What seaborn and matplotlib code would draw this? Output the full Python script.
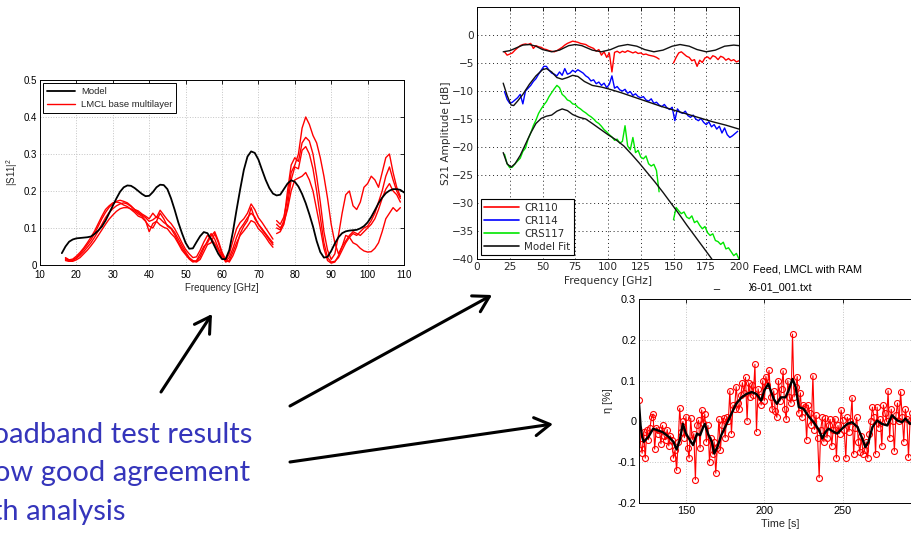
import numpy as np
import matplotlib
matplotlib.use("Agg")
import matplotlib.pyplot as plt
import seaborn as sns
from matplotlib.lines import Line2D
from matplotlib.patches import FancyArrowPatch, Rectangle
from matplotlib.ticker import FuncFormatter

# ---------------- |S11|^2 reflection data ----------------
s11_model_freq = np.arange(16, 111, 1)
s11_model = [0.032, 0.050, 0.063, 0.069, 0.072, 0.073, 0.074, 0.075, 0.077, 0.084,
             0.093, 0.104, 0.120, 0.140, 0.160, 0.180, 0.198, 0.210, 0.215, 0.214,
             0.208, 0.200, 0.192, 0.186, 0.187, 0.197, 0.210, 0.217, 0.216, 0.205,
             0.180, 0.149, 0.115, 0.086, 0.060, 0.044, 0.045, 0.062, 0.078, 0.089,
             0.086, 0.070, 0.050, 0.030, 0.016, 0.016, 0.040, 0.090, 0.149, 0.205,
             0.257, 0.293, 0.307, 0.303, 0.285, 0.257, 0.230, 0.208, 0.193, 0.188,
             0.190, 0.205, 0.220, 0.229, 0.225, 0.212, 0.192, 0.167, 0.137, 0.104,
             0.065, 0.035, 0.020, 0.022, 0.038, 0.058, 0.075, 0.086, 0.091, 0.093,
             0.094, 0.095, 0.099, 0.105, 0.115, 0.130, 0.148, 0.167, 0.182, 0.194,
             0.201, 0.205, 0.205, 0.203, 0.196]

# measured sweeps, band 1 (17-74 GHz) and band 2 (75-109 GHz), 1 GHz steps
s11_band1_freq = np.arange(17, 75, 1)
s11_band2_freq = np.arange(75, 110, 1)
s11_meas_band1 = [
    [0.018, 0.012, 0.014, 0.020, 0.030, 0.042, 0.055, 0.068, 0.085, 0.105,
     0.125, 0.142, 0.156, 0.165, 0.172, 0.175, 0.172, 0.168, 0.160, 0.150,
     0.146, 0.138, 0.132, 0.125, 0.140, 0.128, 0.148, 0.135, 0.122, 0.112,
     0.098, 0.080, 0.060, 0.042, 0.030, 0.020, 0.022, 0.040, 0.062, 0.080,
     0.072, 0.058, 0.040, 0.018, 0.012, 0.030, 0.065, 0.098, 0.115, 0.125,
     0.140, 0.165, 0.150, 0.128, 0.115, 0.100, 0.085, 0.070],
    [0.015, 0.010, 0.012, 0.018, 0.026, 0.036, 0.048, 0.060, 0.075, 0.092,
     0.110, 0.128, 0.142, 0.152, 0.160, 0.165, 0.168, 0.165, 0.158, 0.150,
     0.142, 0.135, 0.128, 0.118, 0.122, 0.130, 0.125, 0.115, 0.108, 0.100,
     0.088, 0.070, 0.052, 0.035, 0.020, 0.012, 0.010, 0.022, 0.045, 0.065,
     0.085, 0.070, 0.045, 0.025, 0.010, 0.020, 0.045, 0.075, 0.098, 0.112,
     0.128, 0.140, 0.130, 0.110, 0.098, 0.085, 0.072, 0.060],
    [0.012, 0.010, 0.010, 0.014, 0.020, 0.030, 0.040, 0.052, 0.065, 0.080,
     0.095, 0.110, 0.124, 0.135, 0.145, 0.152, 0.155, 0.155, 0.152, 0.146,
     0.138, 0.132, 0.120, 0.090, 0.112, 0.118, 0.140, 0.125, 0.105, 0.098,
     0.082, 0.062, 0.045, 0.030, 0.018, 0.010, 0.008, 0.015, 0.035, 0.055,
     0.060, 0.085, 0.060, 0.030, 0.008, 0.012, 0.035, 0.060, 0.080, 0.092,
     0.105, 0.120, 0.115, 0.098, 0.088, 0.075, 0.060, 0.048],
    [0.020, 0.014, 0.016, 0.024, 0.034, 0.046, 0.060, 0.075, 0.092, 0.112,
     0.132, 0.150, 0.160, 0.168, 0.170, 0.168, 0.162, 0.158, 0.150, 0.142,
     0.132, 0.128, 0.118, 0.105, 0.100, 0.118, 0.108, 0.102, 0.098, 0.085,
     0.075, 0.058, 0.040, 0.028, 0.016, 0.008, 0.012, 0.030, 0.050, 0.060,
     0.078, 0.090, 0.065, 0.035, 0.015, 0.008, 0.025, 0.050, 0.085, 0.105,
     0.120, 0.155, 0.125, 0.110, 0.095, 0.082, 0.068, 0.055],
]
s11_meas_band2 = [
    [0.120, 0.110, 0.130, 0.180, 0.250, 0.270, 0.300, 0.370, 0.400, 0.380,
     0.350, 0.330, 0.290, 0.240, 0.180, 0.110, 0.060, 0.030, 0.050, 0.080,
     0.075, 0.060, 0.055, 0.045, 0.038, 0.035, 0.036, 0.045, 0.060, 0.090,
     0.125, 0.140, 0.155, 0.145, 0.155],
    [0.100, 0.095, 0.120, 0.200, 0.270, 0.290, 0.280, 0.330, 0.345, 0.335,
     0.300, 0.240, 0.170, 0.090, 0.040, 0.015, 0.030, 0.080, 0.140, 0.190,
     0.200, 0.160, 0.150, 0.170, 0.210, 0.220, 0.240, 0.230, 0.210, 0.250,
     0.290, 0.300, 0.250, 0.210, 0.185],
    [0.085, 0.090, 0.110, 0.160, 0.230, 0.265, 0.260, 0.310, 0.320, 0.300,
     0.260, 0.200, 0.130, 0.060, 0.020, 0.008, 0.010, 0.020, 0.040, 0.060,
     0.075, 0.085, 0.080, 0.090, 0.100, 0.105, 0.120, 0.140, 0.170, 0.200,
     0.240, 0.265, 0.230, 0.200, 0.180],
    [0.110, 0.100, 0.115, 0.150, 0.200, 0.230, 0.235, 0.240, 0.250, 0.230,
     0.200, 0.150, 0.100, 0.045, 0.012, 0.005, 0.008, 0.025, 0.050, 0.065,
     0.080, 0.090, 0.085, 0.080, 0.090, 0.100, 0.110, 0.125, 0.150, 0.180,
     0.205, 0.220, 0.200, 0.190, 0.170],
]

# ---------------- S21 transmission data ----------------
lo_freq = np.arange(21, 140, 2)      # 21 ... 139 GHz
hi_freq = np.arange(150, 201, 2)     # 150 ... 200 GHz
all_freq = np.arange(21, 200, 2)     # 21 ... 199 GHz

cr110_lo = [-3.0, -3.6, -3.4, -3.2, -2.7, -2.3, -1.9, -1.7, -1.6, -1.7,
            -1.5, -2.4, -1.9, -2.1, -2.2, -2.5, -2.6, -2.8, -2.9, -3.0,
            -2.8, -2.5, -2.2, -1.8, -1.5, -1.3, -1.1, -1.2, -1.3, -1.5,
            -1.6, -1.7, -2.0, -2.2, -2.4, -2.9, -2.6, -3.6, -3.0, -4.0,
            -3.2, -6.6, -3.1, -2.9, -3.2, -2.9, -3.1, -2.8, -3.0, -3.2,
            -3.0, -3.3, -3.2, -3.5, -3.4, -3.6, -3.7, -3.8, -4.0, -4.3]
cr110_hi = [-5.0, -4.0, -3.2, -3.0, -3.4, -3.8, -4.0, -4.6, -4.4, -5.6,
            -4.5, -4.9, -4.1, -3.9, -4.3, -3.7, -3.9, -4.4, -3.8, -4.0,
            -4.5, -4.2, -4.6, -4.4, -4.8, -4.6]
cr114 = [-10.1, -11.5, -12.2, -12.0, -11.6, -11.2, -10.6, -12.3, -10.0, -9.5,
         -9.0, -8.3, -7.8, -7.0, -6.3, -5.6, -5.6, -6.3, -6.8, -7.0,
         -7.3, -6.6, -7.2, -6.0, -7.0, -6.8, -6.3, -6.6, -6.2, -6.5,
         -6.8, -7.3, -7.6, -8.2, -8.0, -8.7, -8.4, -9.0, -8.6, -9.4,
         -8.8, -7.3, -9.5, -9.2, -9.8, -10.0, -9.7, -10.4, -10.1, -10.8,
         -10.5, -11.0, -11.2, -11.0, -11.6, -11.8, -11.4, -12.2, -12.0, -12.5,
         -12.8, -12.4, -13.0, -13.3, -12.9, -15.3, -13.2, -13.8, -14.0, -13.6,
         -14.4, -14.7, -14.3, -15.0, -15.3, -14.9, -15.6, -16.0, -15.5, -16.4,
         -16.0, -16.8, -16.3, -17.5, -16.6, -17.8, -18.3, -18.0, -17.6, -17.2]
crs117_lo = [-21.3, -23.0, -23.7, -23.6, -23.0, -22.5, -22.0, -20.8, -20.2, -18.6,
             -17.5, -16.2, -15.2, -14.0, -13.2, -12.5, -11.9, -11.0, -10.3, -9.6,
             -9.0, -9.4, -10.6, -11.0, -11.6, -11.8, -12.3, -12.4, -12.9, -13.2,
             -13.6, -13.9, -14.3, -14.6, -15.0, -15.5, -15.8, -16.3, -16.9, -17.3,
             -17.8, -18.2, -18.8, -18.6, -19.3, -19.0, -16.2, -19.8, -20.5, -18.3,
             -21.0, -20.6, -21.8, -22.1, -21.6, -23.0, -23.4, -23.1, -24.2, -28.0]
crs117_hi = [-33.0, -30.8, -31.4, -31.9, -31.6, -32.5, -32.8, -32.3, -33.5, -33.2,
             -34.0, -34.6, -34.2, -35.3, -35.8, -35.5, -36.7, -36.9, -37.4, -37.0,
             -38.2, -38.0, -38.7, -39.4, -39.0, -40.0]

fit110_freq = [20, 25, 30, 35, 40, 45, 50, 57, 63, 70, 75, 80, 88, 95, 102, 108, 115, 122, 128,
               135, 142, 149, 155, 162, 168, 175, 182, 189, 196, 200]
fit110 = [-3.0, -2.8, -2.3, -1.8, -1.7, -2.0, -2.6, -3.0, -2.7, -1.9, -1.7, -1.9, -2.7, -3.0,
          -2.6, -2.0, -1.7, -2.0, -2.6, -3.0, -2.7, -2.0, -1.7, -2.0, -2.6, -3.0, -2.7, -2.0,
          -1.8, -1.9]
fit114_freq = [20, 23, 26, 28, 31, 35, 40, 45, 50, 53, 57, 61, 65, 69, 73, 77, 82, 88, 95, 100,
               110, 120, 130, 140, 150, 160, 170, 180, 190, 200]
fit114 = [-8.6, -10.8, -12.5, -12.6, -11.8, -10.6, -8.8, -7.3, -6.2, -6.0, -6.6, -7.6, -7.9,
          -7.6, -7.2, -7.4, -8.3, -9.0, -9.3, -9.6, -10.3, -11.1, -11.9, -12.7, -13.4, -14.1,
          -14.8, -15.5, -16.1, -16.8]
fit117_freq = [20, 23, 26, 29, 33, 37, 41, 45, 49, 53, 57, 61, 65, 69, 73, 78, 83, 88, 94, 100,
               106, 112, 118, 124, 130, 136, 142, 148, 154, 160, 166, 172, 178, 181]
fit117 = [-21.0, -23.0, -23.6, -23.0, -21.5, -19.5, -17.5, -15.8, -14.9, -14.5, -14.3, -13.6,
          -13.2, -13.5, -14.2, -14.7, -15.0, -15.8, -16.8, -17.8, -18.7, -19.8, -21.3, -22.9,
          -24.6, -26.3, -28.1, -30.0, -31.9, -33.9, -35.8, -37.7, -39.6, -40.6]

# ---------------- efficiency time series ----------------
eta_time = np.arange(120, 295, 1)
eta_raw = [0.052, -0.055, -0.078, -0.025, -0.090, -0.020, -0.045, -0.015, 0.010, 0.018,
           -0.068, -0.015, -0.030, -0.020, -0.055, -0.010, -0.035, -0.045, -0.020, -0.060,
           -0.035, -0.045, -0.090, -0.070, -0.120, -0.050, 0.032, -0.025, 0.000, -0.040,
           0.012, -0.065, -0.090, 0.008, -0.045, -0.030, -0.143, -0.010, 0.003, -0.065,
           0.028, -0.005, 0.018, -0.050, -0.010, -0.100, -0.040, -0.080, -0.050, -0.127,
           -0.065, 0.005, -0.070, -0.010, 0.008, -0.040, 0.010, 0.000, 0.075, -0.030,
           0.040, 0.030, 0.085, 0.045, 0.030, 0.065, 0.095, 0.070, 0.108, 0.002,
           0.095, 0.060, 0.090, 0.065, 0.140, -0.025, 0.080, 0.060, 0.040, 0.100,
           0.050, 0.110, 0.090, 0.125, 0.060, 0.030, 0.075, 0.025, 0.010, 0.100,
           0.050, 0.080, 0.124, 0.030, 0.005, 0.100, 0.060, 0.045, 0.214, 0.060,
           0.085, 0.110, 0.020, 0.070, 0.010, 0.040, 0.035, -0.045, 0.040, 0.020,
           -0.010, 0.112, -0.020, 0.015, -0.040, -0.138, -0.020, 0.010, -0.050, 0.008,
           -0.040, -0.010, 0.005, -0.060, -0.020, 0.007, -0.090, -0.010, -0.030, 0.028,
           0.003, -0.020, -0.090, 0.010, -0.025, 0.002, 0.058, -0.080, -0.015, 0.010,
           -0.050, -0.075, -0.035, -0.080, -0.070, -0.050, -0.090, -0.030, 0.000, 0.035,
           0.010, -0.080, 0.035, -0.015, 0.005, -0.060, 0.040, 0.020, 0.000, 0.075,
           -0.040, 0.030, 0.000, -0.073, 0.015, 0.045, 0.000, 0.073, 0.010, -0.050,
           0.030, 0.005, -0.088, 0.000, 0.020]
eta_avg_time = [120, 121, 122, 123, 126, 129, 132, 135, 139, 142, 144, 146, 148, 150, 152.5,
                154.5, 157, 159, 161, 162, 164, 166.5, 168, 170, 172.5, 176, 179, 182, 185.5,
                188.5, 192, 195, 198, 200, 202.5, 204, 206, 208, 210.5, 213.5, 215.5, 218,
                220, 222, 225, 228.5, 231.5, 235, 237, 239, 241, 244.5, 246.5, 249.5, 253,
                256, 259.5, 262.5, 264.5, 266.5, 269, 272, 275, 278.5, 281.5, 285, 288, 290,
                293, 296]
eta_avg = [0.045, -0.010, -0.038, -0.050, -0.038, -0.018, -0.022, -0.026, -0.038, -0.050,
           -0.069, -0.046, -0.006, -0.030, -0.046, -0.058, -0.030, -0.034, -0.014, -0.006,
           -0.030, -0.050, -0.079, -0.063, -0.034, -0.006, 0.019, 0.043, 0.059, 0.067,
           0.072, 0.067, 0.051, 0.076, 0.092, 0.076, 0.055, 0.043, 0.059, 0.059, 0.076,
           0.104, 0.084, 0.035, 0.031, 0.011, -0.002, -0.022, -0.042, -0.026, -0.018,
           -0.026, -0.030, -0.018, -0.006, -0.002, -0.014, -0.042, -0.063, -0.050, -0.014,
           0.002, -0.006, -0.010, 0.015, 0.002, -0.002, 0.007, -0.006, 0.000]

# ---------------- styling ----------------
sns.set_theme(style="white")
plt.rcParams["font.family"] = ["Liberation Sans", "DejaVu Sans"]
plt.rcParams["axes.unicode_minus"] = False
plt.rcParams["mathtext.fontset"] = "custom"
plt.rcParams["mathtext.rm"] = "Liberation Sans"

W, H = 911, 538
fig = plt.figure(figsize=(W / 100, H / 100), dpi=100)
fig.patch.set_facecolor("white")


def px_axes(x0, y0, x1, y1):
    return fig.add_axes([x0 / W, 1 - y1 / H, (x1 - x0) / W, (y1 - y0) / H])


def px(x, y):
    return (x / W, 1 - y / H)


def matlab_box(ax, size, grid_color, grid_ls, tick_color="black", family="Liberation Sans"):
    for s in ax.spines.values():
        s.set_visible(True)
        s.set_color("black")
        s.set_linewidth(0.7)
    ax.tick_params(direction="in", length=3, width=0.6, top=True, right=True,
                   labelsize=size, colors="black", labelcolor=tick_color, pad=2)
    for lab in ax.get_xticklabels() + ax.get_yticklabels():
        lab.set_family(family)
    ax.grid(True, color=grid_color, linestyle=grid_ls, linewidth=0.7)
    ax.set_axisbelow(True)


def trace(ax, x, y, color, lw, **kw):
    sns.lineplot(x=x, y=y, ax=ax, color=color, lw=lw, estimator=None, sort=False,
                 legend=False, **kw)


# ---- reflection panel ----
ax1 = px_axes(40, 80, 404, 265)
for curve in s11_meas_band1:
    trace(ax1, s11_band1_freq, curve, "red", 1.0)
for curve in s11_meas_band2:
    trace(ax1, s11_band2_freq, curve, "red", 1.0)
trace(ax1, s11_model_freq, s11_model, "black", 1.3)
ax1.set_xlim(10, 110)
ax1.set_ylim(0, 0.5)
ax1.set_xticks(range(10, 111, 10))
ax1.set_yticks([0, 0.1, 0.2, 0.3, 0.4, 0.5])
fmt_g = FuncFormatter(lambda v, _: f"{v:g}")
ax1.xaxis.set_major_formatter(fmt_g)
ax1.yaxis.set_major_formatter(fmt_g)
matlab_box(ax1, 7, "#c4c4c4", ":")
ax1.tick_params(axis="x", pad=3.5)
ax1.set_xlabel("Frequency [GHz]", fontsize=7, labelpad=2)
ax1.set_ylabel("|S11|$^2$", fontsize=7, labelpad=3)
leg1 = ax1.legend(handles=[Line2D([], [], color="black", lw=1.3, label="Model"),
                           Line2D([], [], color="red", lw=1.0, label="LMCL base multilayer")],
                  loc="upper left", fontsize=6.8, frameon=True, fancybox=False,
                  edgecolor="black", framealpha=1, handlelength=3.0, borderaxespad=0.35,
                  labelspacing=0.45, borderpad=0.4, handletextpad=0.6)
leg1.get_frame().set_linewidth(0.7)

# ---- title of the efficiency panel (partly under the transmission figure) ----
fig.text(*px(753, 270), "Feed, LMCL with RAM", fontsize=7.8, ha="left", va="center",
         color="black", zorder=0.5)
fig.text(*px(746, 287), "06-01_001.txt", fontsize=7.8, ha="left", va="center",
         color="black", zorder=0.5)
fig.add_artist(Rectangle(px(438, 293), (748.5 - 438) / W, 293 / H, transform=fig.transFigure,
                         facecolor="white", edgecolor="none", zorder=0.8))
fig.text(*px(713, 285), "_", fontsize=7.8, ha="left", va="center", color="black", zorder=0.9)

# ---- transmission panel ----
ax2 = px_axes(477, 7, 739, 259)
ax2.set_zorder(1)
trace(ax2, lo_freq, cr110_lo, "#ff0000", 1.0)
trace(ax2, hi_freq, cr110_hi, "#ff0000", 1.0)
trace(ax2, all_freq, cr114, "#0000ff", 1.0)
trace(ax2, lo_freq, crs117_lo, "#00e600", 1.0)
trace(ax2, hi_freq, crs117_hi, "#00e600", 1.0)
trace(ax2, fit110_freq, fit110, "#111111", 1.0)
trace(ax2, fit114_freq, fit114, "#111111", 1.0)
trace(ax2, fit117_freq, fit117, "#111111", 1.0)
ax2.set_xlim(0, 200)
ax2.set_ylim(-40, 5)
ax2.set_xticks(range(0, 201, 25))
ax2.set_yticks(range(-40, 1, 5))
fmt_minus = FuncFormatter(lambda v, _: f"{v:g}".replace("-", "\u2212"))
ax2.xaxis.set_major_formatter(fmt_minus)
ax2.yaxis.set_major_formatter(fmt_minus)
matlab_box(ax2, 7.6, "#222222", (0, (1, 3)), tick_color="#2a2a2a", family="DejaVu Sans")
ax2.set_xlabel("Frequency [GHz]", fontsize=7.6, family="DejaVu Sans", color="#2a2a2a",
               labelpad=3)
ax2.set_ylabel("S21 Amplitude [dB]", fontsize=7.6, family="DejaVu Sans", color="#2a2a2a",
               labelpad=1)
leg2 = ax2.legend(handles=[Line2D([], [], color="#ff0000", lw=1.2, label="CR110"),
                           Line2D([], [], color="#0000ff", lw=1.2, label="CR114"),
                           Line2D([], [], color="#00e600", lw=1.2, label="CRS117"),
                           Line2D([], [], color="#111111", lw=1.2, label="Model Fit")],
                  loc="lower left", prop={"family": "DejaVu Sans", "size": 7.4},
                  frameon=True, fancybox=False, edgecolor="black", framealpha=1,
                  handlelength=3.4, borderaxespad=0.35, labelspacing=0.3, borderpad=0.35,
                  handletextpad=0.5)
leg2.get_frame().set_linewidth(0.8)
for t in leg2.get_texts():
    t.set_color("#2a2a2a")

# ---- efficiency panel ----
ax3 = px_axes(639, 299, 921, 503)
trace(ax3, eta_time, eta_raw, "red", 0.8, marker="o", markersize=4.3,
      markerfacecolor="none", markeredgecolor="red", markeredgewidth=0.8)
trace(ax3, eta_avg_time, eta_avg, "black", 1.7)
ax3.set_xlim(120, 300)
ax3.set_ylim(-0.2, 0.3)
ax3.set_xticks([150, 200, 250])
ax3.set_yticks([-0.2, -0.1, 0, 0.1, 0.2, 0.3])
ax3.xaxis.set_major_formatter(fmt_g)
ax3.yaxis.set_major_formatter(fmt_g)
matlab_box(ax3, 7.8, "#c4c4c4", ":")
ax3.set_xlabel("Time [s]", fontsize=7.8, labelpad=2)
ax3.set_ylabel("\u03b7 [%]", fontsize=7.8, labelpad=3)

# ---- pointer arrows ----
for (xa, ya), (xb, yb) in [((161, 392), (212, 314)),
                           ((290, 406), (492, 295)),
                           ((290, 462), (553, 424))]:
    fig.add_artist(FancyArrowPatch((xa / 100, (H - ya) / 100), (xb / 100, (H - yb) / 100),
                                   transform=fig.dpi_scale_trans,
                                   arrowstyle="->,head_length=1.1,head_width=0.65",
                                   mutation_scale=10, lw=2.2, color="black",
                                   shrinkA=0, shrinkB=0, zorder=5))

# ---- slide caption ----
caption_color = "#3535bb"
for text, x_right, y_base in [("Broadband test results", 252, 443),
                              ("show good agreement", 250, 481),
                              ("with analysis", 125, 520)]:
    fig.text(*px(x_right, y_base), text, ha="right", va="baseline", fontsize=21,
             family="Lato", color=caption_color, zorder=6)

fig.savefig("out.png", dpi=100)
